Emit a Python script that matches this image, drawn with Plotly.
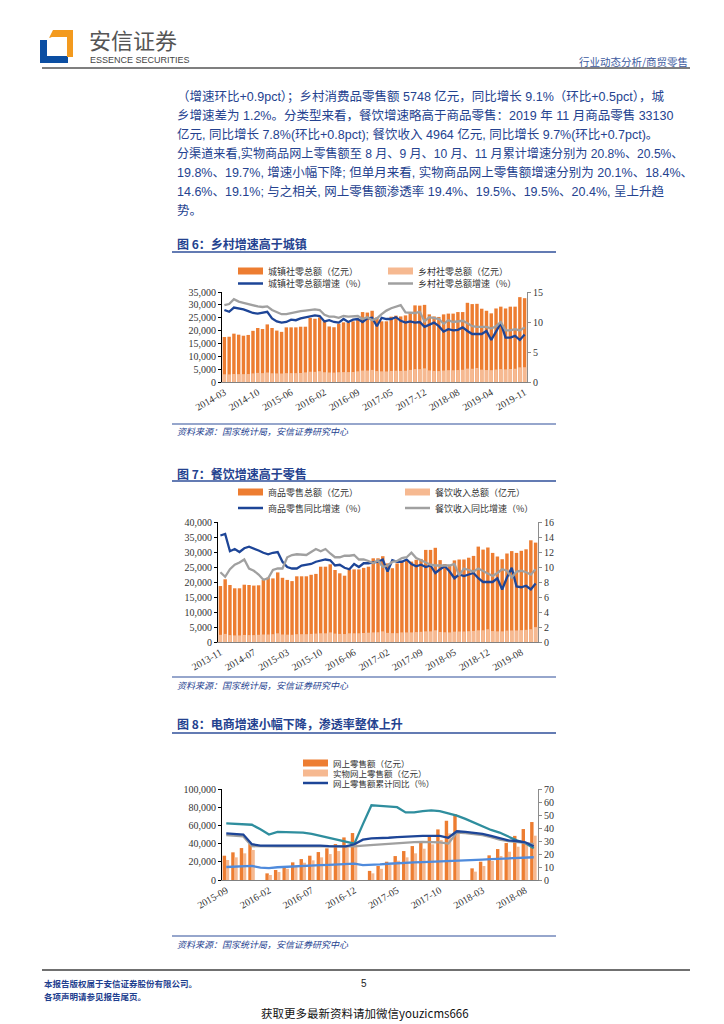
import plotly.graph_objects as go

W, H = 724, 1024
def fx(x): return x / W
def fy(y): return 1 - y / H

BLUE_TXT = "#24428f"
ORANGE = "#ED7D31"
LIGHT = "#F6B991"
DBLUE = "#1D4597"
GRAY = "#A0A0A0"
TEAL = "#2F8E9E"
LBLUE = "#4F8BDC"
SERIF = "Liberation Serif, Times New Roman, serif"
CJK = "Liberation Sans, Noto Sans CJK SC, sans-serif"

# ---------------- Chart 6 data ----------------
cat6 = ["2014-03","2014-04","2014-05","2014-06","2014-07","2014-08","2014-09","2014-10","2014-11","2014-12",
        "2015-02","2015-03","2015-04","2015-05","2015-06","2015-07","2015-08","2015-09","2015-10","2015-11","2015-12",
        "2016-02","2016-03","2016-04","2016-05","2016-06","2016-07","2016-08","2016-09","2016-10","2016-11","2016-12",
        "2017-02","2017-03","2017-04","2017-05","2017-06","2017-07","2017-08","2017-09","2017-10","2017-11","2017-12",
        "2018-02","2018-03","2018-04","2018-05","2018-06","2018-07","2018-08","2018-09","2018-10","2018-11","2018-12",
        "2019-02","2019-03","2019-04","2019-05","2019-06","2019-07","2019-08","2019-09","2019-10","2019-11"]
urban_sales = [17500, 17600, 18800, 18400, 18000, 18300, 19900, 21000, 20600, 22400,
               21000, 20000, 19500, 21250, 21250, 21250, 21500, 21500, 24900, 24600, 25100,
               23600, 21600, 21300, 22700, 23200, 23200, 23600, 24200, 27200, 27000, 27700,
               25100, 23600, 23600, 25400, 25800, 25500, 25900, 26800, 29800, 29700, 30000,
               26300, 25500, 25300, 26300, 26600, 26600, 27200, 27200, 30800, 30300, 30400,
               28500, 27700, 26700, 28600, 29300, 28600, 29300, 29300, 33000, 32600]
rural_sales = [3000, 2950, 3100, 3050, 3050, 3100, 3350, 3550, 3450, 3700,
               3400, 3350, 3300, 3450, 3450, 3450, 3500, 3750, 4000, 3950, 4200,
               3800, 3700, 3650, 3800, 3850, 3850, 3900, 4150, 4450, 4450, 4700,
               4250, 4150, 4100, 4300, 4400, 4300, 4400, 4700, 5000, 5000, 5300,
               4500, 4300, 4250, 4450, 4600, 4550, 4650, 4750, 5200, 5150, 5450,
               4800, 4650, 4600, 4850, 5000, 4900, 5050, 5150, 5700, 5748]
urban_growth = [12.0, 11.7, 12.4, 12.3, 12.1, 11.8, 11.5, 11.4, 11.6, 11.7,
                10.6, 10.1, 9.9, 10.0, 10.4, 10.3, 10.6, 10.8, 10.9, 11.1, 11.0,
                10.1, 10.3, 10.0, 9.9, 10.5, 10.0, 10.4, 10.5, 10.0, 10.6, 10.7,
                9.3, 10.7, 10.5, 10.5, 10.8, 10.2, 9.9, 10.1, 9.9, 10.0, 9.2,
                9.5, 9.9, 9.3, 8.4, 8.8, 8.6, 8.7, 9.1, 8.5, 8.0, 8.0,
                8.0, 8.5, 7.0, 8.4, 9.8, 7.4, 7.4, 7.7, 7.0, 7.9]
rural_growth = [12.8, 13.0, 13.8, 13.4, 13.2, 13.0, 12.7, 12.6, 12.5, 12.6,
                12.0, 11.6, 11.3, 11.3, 11.5, 11.7, 11.8, 11.9, 12.0, 12.1, 12.0,
                11.2, 10.9, 10.9, 10.7, 11.0, 10.9, 11.0, 11.0, 10.5, 10.8, 10.3,
                10.6, 11.3, 11.9, 12.3, 12.6, 12.8, 11.6, 11.5, 11.5, 11.7, 10.1,
                10.8, 10.6, 10.5, 9.7, 10.3, 10.0, 10.1, 10.2, 9.8, 9.3, 9.2,
                9.2, 9.2, 8.9, 9.3, 10.0, 8.6, 8.6, 8.8, 8.6, 9.1]
ticks6 = ["2014-03","2014-10","2015-06","2016-02","2016-09","2017-05","2017-12","2018-08","2019-04","2019-11"]

# ---------------- Chart 7 data ----------------
cat7 = ["2013-11","2013-12",
        "2014-02","2014-03","2014-04","2014-05","2014-06","2014-07","2014-08","2014-09","2014-10","2014-11","2014-12",
        "2015-02","2015-03","2015-04","2015-05","2015-06","2015-07","2015-08","2015-09","2015-10","2015-11","2015-12",
        "2016-02","2016-03","2016-04","2016-05","2016-06","2016-07","2016-08","2016-09","2016-10","2016-11","2016-12",
        "2017-02","2017-03","2017-04","2017-05","2017-06","2017-07","2017-08","2017-09","2017-10","2017-11","2017-12",
        "2018-02","2018-03","2018-04","2018-05","2018-06","2018-07","2018-08","2018-09","2018-10","2018-11","2018-12",
        "2019-02","2019-03","2019-04","2019-05","2019-06","2019-07","2019-08","2019-09","2019-10","2019-11"]
goods_sales = [18650, 20900,
               19000, 17900, 17900, 19100, 19000, 18800, 18900, 20700, 21500, 21200, 23200,
               21400, 20700, 20300, 21900, 21900, 21900, 22400, 22700, 25100, 25100, 25900,
               24000, 22900, 22100, 24200, 24200, 24200, 24700, 25100, 27900, 27900, 28600,
               26200, 24600, 26200, 26800, 27400, 26800, 27400, 27700, 30700, 30700, 31400,
               27300, 26000, 25700, 27200, 27500, 27500, 28100, 28700, 31800, 30800, 31500,
               29700, 28500, 27600, 29500, 30300, 29700, 30400, 30900, 33900, 33130]
catering_sales = [2400, 2700,
                  2300, 2200, 2200, 2350, 2300, 2300, 2400, 2500, 2500, 2600, 2900,
                  2500, 2450, 2400, 2600, 2600, 2600, 2700, 2800, 2900, 2900, 3200,
                  2800, 2700, 2650, 2900, 2900, 2900, 3000, 3100, 3200, 3250, 3550,
                  3050, 2950, 2950, 3200, 3200, 3200, 3300, 3400, 3550, 3550, 3900,
                  3350, 3250, 3200, 3450, 3500, 3500, 3600, 3700, 3900, 3900, 4250,
                  3650, 3550, 3550, 3800, 3850, 3850, 3950, 4050, 4250, 4964]
goods_growth = [14.2, 14.4,
                12.1, 12.4, 12.0, 12.5, 12.7, 12.5, 12.2, 11.9, 11.7, 11.9, 12.0,
                10.7, 10.0, 9.8, 9.8, 10.2, 10.3, 10.4, 10.7, 10.8, 11.0, 10.9,
                10.2, 10.3, 9.9, 9.7, 10.4, 10.0, 10.5, 10.5, 10.6, 10.7, 11.0,
                9.4, 10.9, 10.7, 10.7, 11.0, 10.4, 10.1, 10.3, 10.0, 10.2, 9.2,
                9.7, 10.1, 9.4, 8.5, 9.0, 8.8, 9.0, 9.2, 8.5, 8.0, 8.0,
                8.0, 8.5, 7.0, 8.6, 9.9, 7.4, 7.3, 7.5, 7.0, 7.8]
catering_growth = [9.3, 8.7,
                   9.7, 10.3, 10.6, 11.0, 9.8, 9.5, 9.0, 8.3, 8.5, 9.6, 9.8,
                   9.8, 11.3, 11.6, 11.7, 11.6, 11.6, 12.0, 12.4, 12.1, 12.4, 11.8,
                   11.3, 11.3, 11.5, 11.5, 11.6, 11.0, 11.0, 10.8, 10.5, 10.9, 10.0,
                   10.2, 10.7, 10.8, 11.2, 11.3, 11.9, 11.2, 10.9, 10.5, 10.3, 10.2,
                   10.2, 10.1, 10.2, 10.4, 8.9, 9.8, 9.6, 9.4, 9.8, 9.5, 9.2,
                   8.8, 9.2, 9.7, 9.5, 8.6, 9.4, 9.5, 9.3, 9.0, 9.7]
ticks7 = ["2013-11","2014-07","2015-03","2015-10","2016-06","2017-02","2017-09","2018-05","2018-12","2019-08"]

# ---------------- Chart 8 data ----------------
cat8 = ["2015-09","2015-10","2015-11","2015-12",
        "2016-01","2016-02","2016-03","2016-04","2016-05","2016-06","2016-07","2016-08","2016-09","2016-10","2016-11","2016-12",
        "2017-01","2017-02","2017-03","2017-04","2017-05","2017-06","2017-07","2017-08","2017-09","2017-10","2017-11","2017-12",
        "2018-01","2018-02","2018-03","2018-04","2018-05","2018-06","2018-07","2018-08","2018-09"]
online_sales = [26700, 30400, 35100, 39500,
                None, 7300, 11000, 15400, 19400, 23000, 26700, 30700, 34800, 39500, 46800, 51600,
                None, 10000, 15400, 20100, 26300, 31800, 37300, 42000, 47600, 55600, 65100, 72500,
                None, 12800, 20100, 27100, 34000, 40600, 48500, 56000, 63700]
physical_sales = [22000, 24900, 29300, 33000,
                  None, 5500, 8800, 12400, 15700, 19000, 21600, 24900, 28500, 31800, 37300, 42000,
                  None, 7300, 12300, 16500, 21200, 24900, 29300, 34400, 39200, 44000, 51200, 55000,
                  None, 9200, 15400, 20900, 26400, 31100, 36600, 41700, 48700]
online_growth = [35.8, 35.5, 35.0, 27.5,
                 26.5, 26.5, 26.5, 26.5, 26.5, 27.0, 26.8, 26.5, 26.0, 25.8, 25.8, 27.5,
                 31.0, 32.0, 32.0, 32.5, 33.0, 33.5, 33.5, 34.0, 34.0, 34.0, 32.5, 37.5,
                 37.0, 36.5, 35.5, 34.0, 32.0, 30.5, 30.0, 29.0, 26.0]
nonphysical_growth = [43.5, 43.0, 42.5, 42.5,
                      39.0, 35.0, 37.0, 36.8, 36.5, 36.5, 35.5, 34.0, 32.5, 31.0, 29.5, 28.0,
                      43.0, 57.5, 57.0, 56.5, 56.0, 52.0, 52.0, 53.0, 53.5, 53.0, 51.5, 49.5,
                      47.0, 44.0, 41.0, 38.5, 36.5, 33.5, 30.5, 28.5, 24.5]
physical_growth = [34.5, 34.0, 33.5, 26.0,
                   25.8, 25.8, 25.8, 25.8, 25.8, 26.0, 26.0, 25.8, 25.5, 25.5, 25.5, 25.8,
                   26.5, 27.0, 27.5, 28.0, 28.5, 29.0, 29.2, 29.4, 29.4, 29.0, 28.0, 36.5,
                   36.0, 35.5, 34.5, 33.0, 31.0, 30.0, 29.5, 28.5, 27.5]
penetration = [10.0, 10.2, 10.5, 10.8,
               9.5, 9.2, 9.8, 10.2, 10.6, 10.9, 11.2, 11.4, 11.6, 11.8, 12.3, 12.6,
               11.5, 11.5, 12.0, 12.5, 13.0, 13.3, 13.5, 13.7, 13.9, 14.2, 14.6, 15.0,
               15.2, 15.3, 15.6, 16.0, 16.4, 16.8, 17.0, 17.2, 17.5]
ticks8 = ["2015-09","2016-02","2016-07","2016-12","2017-05","2017-10","2018-03","2018-08"]

fig = go.Figure()

# chart 6 traces
fig.add_bar(x=cat6, y=urban_sales, marker_color=ORANGE, width=0.72, xaxis="x", yaxis="y", showlegend=False)
fig.add_bar(x=cat6, y=rural_sales, marker_color=LIGHT, width=0.72, xaxis="x", yaxis="y", showlegend=False)
fig.add_scatter(x=cat6, y=urban_growth, mode="lines", line=dict(color=DBLUE, width=2.3), xaxis="x", yaxis="y2", showlegend=False)
fig.add_scatter(x=cat6, y=rural_growth, mode="lines", line=dict(color=GRAY, width=2.3), xaxis="x", yaxis="y2", showlegend=False)

# chart 7 traces
fig.add_bar(x=cat7, y=goods_sales, marker_color=ORANGE, width=0.72, xaxis="x2", yaxis="y3", showlegend=False)
fig.add_bar(x=cat7, y=catering_sales, marker_color=LIGHT, width=0.72, xaxis="x2", yaxis="y3", showlegend=False)
fig.add_scatter(x=cat7, y=goods_growth, mode="lines", line=dict(color=DBLUE, width=2.3), xaxis="x2", yaxis="y4", showlegend=False)
fig.add_scatter(x=cat7, y=catering_growth, mode="lines", line=dict(color=GRAY, width=2.3), xaxis="x2", yaxis="y4", showlegend=False)

# chart 8 traces
fig.add_bar(x=cat8, y=online_sales, marker_color=ORANGE, width=0.4, offset=-0.42, xaxis="x3", yaxis="y5", showlegend=False)
fig.add_bar(x=cat8, y=physical_sales, marker_color=LIGHT, width=0.38, offset=-0.04, xaxis="x3", yaxis="y5", showlegend=False)
fig.add_scatter(x=cat8, y=nonphysical_growth, mode="lines", line=dict(color=TEAL, width=2.3), xaxis="x3", yaxis="y6", showlegend=False)
fig.add_scatter(x=cat8, y=physical_growth, mode="lines", line=dict(color=GRAY, width=2.3), xaxis="x3", yaxis="y6", showlegend=False)
fig.add_scatter(x=cat8, y=online_growth, mode="lines", line=dict(color=DBLUE, width=2.3), xaxis="x3", yaxis="y6", showlegend=False)
fig.add_scatter(x=cat8, y=penetration, mode="lines", line=dict(color=LBLUE, width=2.3), xaxis="x3", yaxis="y6", showlegend=False)

tickfont = dict(family=SERIF, size=10, color="#333333")

def xax(domain, anchor, cats, ticks):
    return dict(domain=domain, anchor=anchor, type="category", categoryorder="array", categoryarray=cats,
                range=[-0.5, len(cats) - 0.5], tickmode="array", tickvals=ticks, ticktext=ticks,
                tickangle=-30, tickfont=tickfont, showgrid=False, showline=True, linecolor="#808080",
                linewidth=1, ticks="", zeroline=False, fixedrange=True, automargin=False)

def yleft(domain, anchor, rng, dtick):
    return dict(domain=domain, anchor=anchor, range=rng, dtick=dtick, tickformat=",", tickfont=tickfont,
                showgrid=False, showline=True, linecolor="#000000", linewidth=1, ticks="outside",
                ticklen=3, tickcolor="#000000", zeroline=False, fixedrange=True, automargin=False)

def yright(overlay, anchor, rng, dtick):
    return dict(overlaying=overlay, anchor=anchor, side="right", range=rng, dtick=dtick, tickfont=tickfont,
                showgrid=False, showline=True, linecolor="#8c8c8c", linewidth=1, ticks="outside",
                ticklen=3, tickcolor="#8c8c8c", zeroline=False, fixedrange=True, automargin=False)

d6x = [fx(222), fx(527)]; d6y = [fy(382), fy(292)]
d7x = [fx(218), fx(538)]; d7y = [fy(642), fy(522)]
d8x = [fx(222), fx(538)]; d8y = [fy(880), fy(789)]

fig.update_layout(
    template="none",
    width=W, height=H, autosize=False, margin=dict(l=0, r=0, t=0, b=0, pad=0),
    paper_bgcolor="white", plot_bgcolor="white", barmode="overlay", bargap=0.25,
    showlegend=False,
    xaxis=xax(d6x, "y", cat6, ticks6),
    yaxis=yleft(d6y, "x", [0, 35000], 5000),
    yaxis2=yright("y", "x", [0, 15], 5),
    xaxis2=xax(d7x, "y3", cat7, ticks7),
    yaxis3=yleft(d7y, "x2", [0, 40000], 5000),
    yaxis4=yright("y3", "x2", [0, 16], 2),
    xaxis3=xax(d8x, "y5", cat8, ticks8),
    yaxis5=yleft(d8y, "x3", [0, 100000], 20000),
    yaxis6=yright("y5", "x3", [0, 70], 10),
)

shapes = []
ann = []

def text(x, y, s, size, color="#333333", family=CJK, anchor="left", bold=False, italic=False):
    if bold:
        s = "<b>" + s + "</b>"
    if italic:
        s = "<i>" + s + "</i>"
    ann.append(dict(x=fx(x), y=fy(y), xref="paper", yref="paper", text=s, showarrow=False,
                    xanchor=anchor, yanchor="middle", font=dict(size=size, color=color, family=family)))

def hline(x0, x1, y, color, width):
    shapes.append(dict(type="line", xref="paper", yref="paper", x0=fx(x0), x1=fx(x1), y0=fy(y), y1=fy(y),
                       line=dict(color=color, width=width)))

def rect(x0, y0, x1, y1, color):
    shapes.append(dict(type="rect", xref="paper", yref="paper", x0=fx(x0), x1=fx(x1), y0=fy(y1), y1=fy(y0),
                       fillcolor=color, line=dict(width=0)))

def path(pts, color):
    d = "M " + " L ".join(f"{fx(a):.5f},{fy(b):.5f}" for a, b in pts) + " Z"
    shapes.append(dict(type="path", xref="paper", yref="paper", path=d, fillcolor=color, line=dict(width=0)))

# ---- header ----
path([(40, 40), (47, 40), (47, 56), (68, 56), (68, 63), (40, 63)], "#0B4EA2")
path([(49, 38), (53, 30), (73, 30), (73, 57), (67, 57), (67, 37), (52, 37)], "#F39A1E")
text(87, 38.5, "安信证券", 22, "#555555", "Noto Sans CJK SC")
text(88, 59.5, "ESSENCE SECURITIES", 9, "#444444", "Liberation Sans Narrow, Liberation Sans, sans-serif")
text(690, 61, "行业动态分析/商贸零售", 10.5, "#3d5aa0", "Noto Sans CJK SC", anchor="right")
hline(42, 690, 68, "#7f7f7f", 2)

# ---- body text ----
body = [
    "（增速环比+0.9pct）；乡村消费品零售额 5748 亿元，同比增长 9.1%（环比+0.5pct），城",
    "乡增速差为 1.2%。分类型来看，餐饮增速略高于商品零售：2019 年 11 月商品零售 33130",
    "亿元, 同比增长 7.8%(环比+0.8pct); 餐饮收入 4964 亿元, 同比增长 9.7%(环比+0.7pct)。",
    "分渠道来看,实物商品网上零售额至 8 月、9 月、10 月、11 月累计增速分别为 20.8%、20.5%、",
    "19.8%、19.7%, 增速小幅下降; 但单月来看, 实物商品网上零售额增速分别为 20.1%、18.4%、",
    "14.6%、19.1%; 与之相关, 网上零售额渗透率 19.4%、19.5%、19.5%、20.4%, 呈上升趋",
    "势。",
]
body_sizes = [12.5, 12.5, 12.5, 12.1, 12.5, 12.5, 12.5]
for i, line in enumerate(body):
    text(175, 96 + i * 19, line, body_sizes[i], BLUE_TXT)

# ---- chart titles / rules / sources ----
def section(title, ty, ly, sly, sty):
    text(175, ty, title, 12, BLUE_TXT, "Noto Sans CJK SC", bold=True)
    hline(172, 556, ly, "#2f4f9a", 1.6)
    hline(172, 556, sly, "#2f4f9a", 1.2)
    text(175, sty, "资料来源：国家统计局，安信证券研究中心", 9, BLUE_TXT, "Noto Sans CJK SC", italic=True)

section("图 6：乡村增速高于城镇", 243, 252, 424, 431)
section("图 7：餐饮增速高于零售", 473, 481, 677, 685)
section("图 8：电商增速小幅下降，渗透率整体上升", 723, 733, 936, 944)

# ---- legends ----
def leg_box(x, y, color, label, size=9):
    rect(x, y - 3.5, x + 25, y + 3.5, color)
    text(x + 28, y, label, size, "#333333", "Noto Sans CJK SC")

def leg_line(x, y, color, label, size=9):
    hline(x, x + 25, y, color, 2.5)
    text(x + 28, y, label, size, "#333333", "Noto Sans CJK SC")

leg_box(238, 271, ORANGE, "城镇社零总额（亿元）")
leg_box(388, 271, LIGHT, "乡村社零总额（亿元）")
leg_line(238, 283.5, DBLUE, "城镇社零总额增速（%）")
leg_line(388, 283.5, GRAY, "乡村社零总额增速（%）")

leg_box(238, 492, ORANGE, "商品零售总额（亿元）")
leg_box(405, 492, LIGHT, "餐饮收入总额（亿元）")
leg_line(238, 508, DBLUE, "商品零售同比增速（%）")
leg_line(405, 508, GRAY, "餐饮收入同比增速（%）")

leg_box(303, 763, ORANGE, "网上零售额（亿元）", 8.5)
leg_box(303, 773, LIGHT, "实物网上零售额（亿元）", 8.5)
leg_line(303, 783, DBLUE, "网上零售额累计同比（%）", 8.5)

# ---- footer ----
hline(42, 690, 970, "#404040", 1.6)
text(42, 983, "本报告版权属于安信证券股份有限公司。", 8.5, "#1f3f8f", "Noto Sans CJK SC", bold=True)
text(42, 996, "各项声明请参见报告尾页。", 8.5, "#1f3f8f", "Noto Sans CJK SC", bold=True)
text(364, 983, "5", 10, "#222222", "Liberation Sans Narrow, Liberation Sans, sans-serif", anchor="center")
text(365, 1013, "获取更多最新资料请加微信youzicms666", 11.5, "#111111", "Noto Sans CJK SC", anchor="center")

fig.update_layout(shapes=shapes, annotations=ann)
fig.write_html("out.html", config={"displayModeBar": False},
               post_script="document.body.style.margin='0';document.body.style.overflow='hidden';")
